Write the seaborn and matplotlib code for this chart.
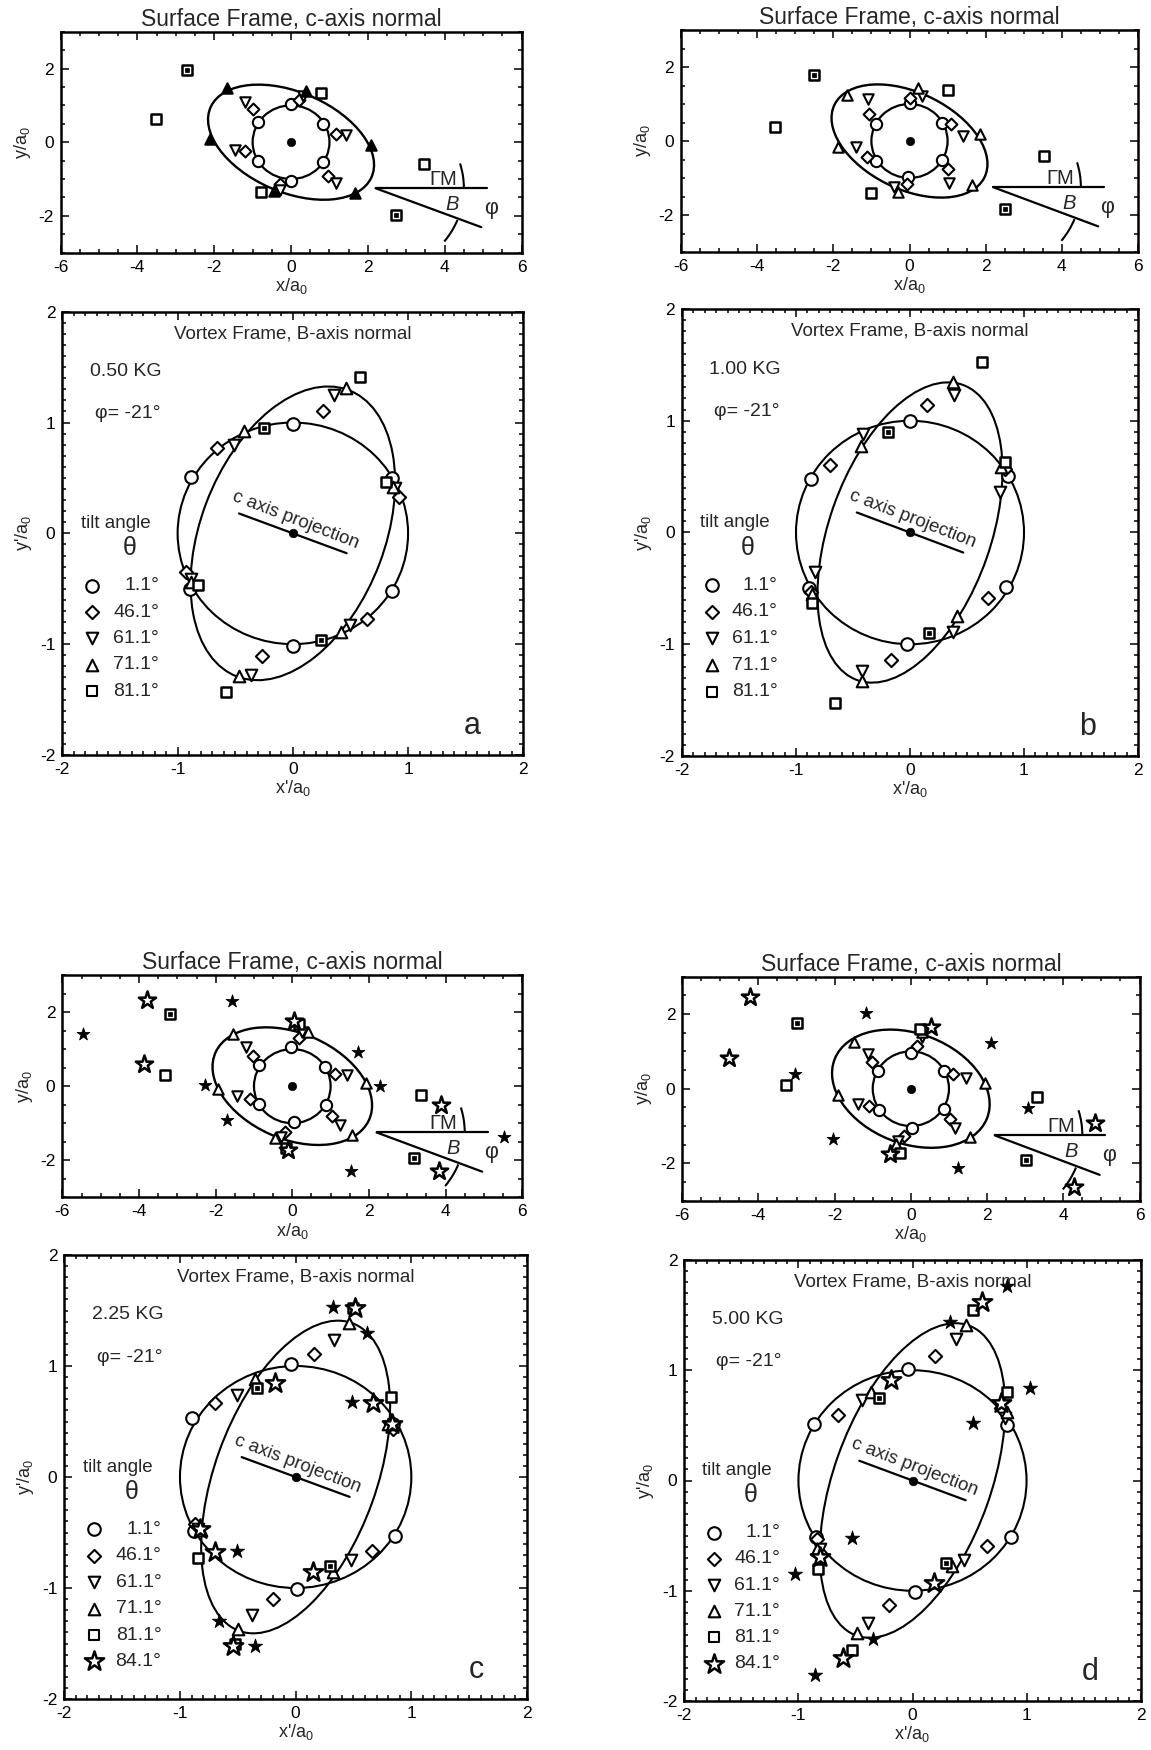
import numpy as np
import pandas as pd
import matplotlib
matplotlib.use("Agg")
import matplotlib.pyplot as plt
from matplotlib.patches import Ellipse, Arc
import seaborn as sns

# ---------------- data ----------------
FIELDS = ["0.50 KG", "1.00 KG", "2.25 KG", "5.00 KG"]
LETTERS = ["a", "b", "c", "d"]
PHI = -21
TILT_LABELS = ["1.1°", "46.1°", "61.1°", "71.1°", "81.1°", "84.1°"]

# surface-frame fitted ellipse (semi-axes, angle) per panel
SURF_ELL_A = [2.30, 2.20, 2.20, 2.15]
SURF_ELL_B = [1.35, 1.30, 1.42, 1.47]
SURF_ELL_ANG = [-25, -27, -25, -22]
# vortex-frame fitted ellipse per panel
VORT_ELL_A = [1.38, 1.40, 1.47, 1.49]
VORT_ELL_B = [0.80, 0.71, 0.70, 0.69]
VORT_ELL_ANG = [70, 71, 71, 71]

# ---- panel a ----
a_s_o = [(0, 1.03), (0.84, 0.5), (0.84, -0.53), (0, -1.04), (-0.85, -0.52), (-0.85, 0.54)]
a_s_d = [(0.2, 1.15), (1.18, 0.23), (0.97, -0.92), (-0.29, -1.13), (-1.21, -0.23), (-1.0, 0.91)]
a_s_v = [(-1.21, 1.1), (-1.45, -0.21), (1.42, 0.2), (1.18, -1.11), (0.3, 1.25), (-0.3, -1.3)]
a_s_t = [(-1.66, 1.46), (0.39, 1.4), (2.07, -0.07), (1.66, -1.39), (-0.45, -1.33), (-2.1, 0.08)]
a_s_sq = [(0.78, 1.33), (-0.78, -1.36), (-3.51, 0.62), (3.47, -0.6)]
a_s_sqd = [(-2.72, 1.97), (2.73, -1.99)]

a_v_o = [(-0.88, 0.51), (0, 0.99), (0.86, 0.5), (0.86, -0.52), (0, -1.02), (-0.89, -0.5)]
a_v_d = [(-0.66, 0.77), (0.26, 1.1), (0.92, 0.33), (0.64, -0.77), (-0.27, -1.11), (-0.93, -0.35)]
a_v_v = [(-0.51, 0.8), (0.36, 1.25), (0.89, 0.41), (0.5, -0.83), (-0.36, -1.28), (-0.88, -0.41)]
a_v_t = [(-0.42, 0.92), (0.46, 1.31), (0.87, 0.42), (0.42, -0.89), (-0.47, -1.29), (-0.88, -0.44)]
a_v_sq = [(0.58, 1.41), (0.81, 0.46), (-0.82, -0.47), (-0.58, -1.43)]
a_v_sqd = [(-0.25, 0.95), (0.24, -0.96)]

# ---- panel b ----
b_s_o = [(0, 1.04), (0.86, 0.5), (0.86, -0.51), (-0.03, -0.98), (-0.88, -0.53), (-0.88, 0.47)]
b_s_d = [(-1.07, 0.73), (1.1, 0.46), (1.0, -0.75), (-1.12, -0.44), (0.01, 1.17), (-0.06, -1.15)]
b_s_v = [(-1.09, 1.13), (-1.41, -0.15), (1.41, 0.14), (1.05, -1.14), (0.33, 1.22), (-0.4, -1.24)]
b_s_t = [(-1.65, 1.24), (0.23, 1.42), (1.86, 0.19), (1.63, -1.2), (-0.3, -1.38), (-1.89, -0.17)]
b_s_sq = [(-3.54, 0.38), (1.0, 1.37), (-1.02, -1.4), (3.52, -0.41)]
b_s_sqd = [(-2.5, 1.78), (2.5, -1.83)]

b_v_o = [(-0.87, 0.48), (0, 1.0), (0.86, 0.51), (0.84, -0.49), (-0.03, -1.0), (-0.89, -0.5)]
b_v_d = [(-0.7, 0.6), (0.15, 1.14), (0.83, 0.57), (0.68, -0.59), (-0.17, -1.14), (-0.87, -0.53)]
b_v_v = [(-0.41, 0.88), (0.39, 1.23), (0.79, 0.36), (0.38, -0.89), (-0.42, -1.24), (-0.83, -0.35)]
b_v_t = [(-0.43, 0.77), (0.38, 1.35), (0.8, 0.59), (0.41, -0.75), (-0.42, -1.33), (-0.86, -0.55)]
b_v_sq = [(0.63, 1.53), (0.83, 0.63), (-0.86, -0.63), (-0.66, -1.53)]
b_v_sqd = [(-0.19, 0.9), (0.17, -0.9)]

# ---- panel c ----
c_s_o = [(-0.04, 1.05), (0.85, 0.52), (0.88, -0.5), (0.04, -0.98), (-0.86, -0.47), (-0.88, 0.56)]
c_s_d = [(-1.03, 0.82), (1.11, 0.32), (1.04, -0.8), (-1.11, -0.35), (0.18, 1.29), (-0.2, -1.23)]
c_s_v = [(-1.21, 1.05), (1.43, 0.29), (1.24, -1.05), (-1.45, -0.27), (0.25, 1.45), (-0.3, -1.36)]
c_s_t = [(-1.54, 1.41), (0.42, 1.47), (1.93, 0.09), (1.55, -1.32), (-0.44, -1.41), (-1.93, -0.07)]
c_s_sq = [(-3.33, 0.29), (0.18, 1.68), (-0.17, -1.68), (3.37, -0.25)]
c_s_sqd = [(-3.2, 1.95), (3.18, -1.94)]
c_s_so = [(-3.79, 2.32), (-3.86, 0.59), (0.04, 1.77), (-0.1, -1.73), (3.87, -0.52), (3.82, -2.29)]
c_s_sf = [(-5.47, 1.41), (-1.57, 2.3), (-2.28, 0.03), (-1.7, -0.91), (1.71, 0.91), (2.29, 0.0),
          (1.52, -2.29), (5.52, -1.38)]

c_v_o = [(-0.9, 0.53), (-0.04, 1.02), (0.84, 0.48), (0.86, -0.53), (0.01, -1.01), (-0.88, -0.49)]
c_v_d = [(-0.7, 0.67), (0.16, 1.11), (0.84, 0.43), (0.66, -0.67), (-0.2, -1.1), (-0.87, -0.42)]
c_v_v = [(-0.51, 0.74), (0.33, 1.23), (0.81, 0.45), (0.48, -0.75), (-0.38, -1.24), (-0.84, -0.47)]
c_v_t = [(-0.35, 0.88), (0.46, 1.39), (0.8, 0.48), (0.32, -0.86), (-0.5, -1.37), (-0.82, -0.48)]
c_v_sq = [(0.5, 1.52), (0.82, 0.72), (-0.84, -0.73), (-0.52, -1.5)]
c_v_sqd = [(-0.33, 0.8), (0.3, -0.8)]
c_v_so = [(0.51, 1.52), (-0.18, 0.85), (0.67, 0.67), (0.83, 0.48), (0.15, -0.86), (-0.7, -0.68),
          (-0.83, -0.47), (-0.54, -1.52)]
c_v_sf = [(0.32, 1.53), (0.62, 1.3), (0.49, 0.68), (-0.51, -0.67), (-0.66, -1.3), (-0.35, -1.52)]

# ---- panel d ----
d_s_o = [(0, 0.96), (0.86, 0.47), (0.88, -0.54), (0.04, -1.05), (-0.83, -0.56), (-0.85, 0.47)]
d_s_d = [(-1.02, 0.72), (1.1, 0.39), (1.02, -0.81), (-1.1, -0.47), (0.15, 1.14), (-0.18, -1.26)]
d_s_v = [(-1.13, 0.94), (1.44, 0.3), (1.17, -1.06), (-1.39, -0.4), (0.3, 1.39), (-0.33, -1.39)]
d_s_t = [(-1.5, 1.26), (0.3, 1.52), (1.94, 0.15), (1.55, -1.3), (-0.38, -1.48), (-1.92, -0.18)]
d_s_sq = [(-3.27, 0.11), (0.25, 1.61), (-0.28, -1.72), (3.31, -0.21)]
d_s_sqd = [(-2.98, 1.77), (3.03, -1.9)]
d_s_so = [(-4.23, 2.45), (-4.76, 0.81), (0.52, 1.64), (-0.54, -1.75), (4.83, -0.92), (4.28, -2.63)]
d_s_sf = [(-1.19, 2.02), (-3.03, 0.4), (-2.03, -1.35), (2.1, 1.23), (3.07, -0.52), (1.23, -2.13)]

d_v_o = [(-0.86, 0.51), (-0.04, 1.01), (0.83, 0.5), (0.86, -0.51), (0.02, -1.01), (-0.85, -0.51)]
d_v_d = [(-0.65, 0.59), (0.2, 1.13), (0.78, 0.66), (0.65, -0.59), (-0.21, -1.13), (-0.84, -0.53)]
d_v_v = [(-0.44, 0.73), (0.38, 1.28), (0.81, 0.57), (0.45, -0.72), (-0.39, -1.29), (-0.81, -0.62)]
d_v_t = [(-0.36, 0.8), (0.47, 1.41), (0.83, 0.62), (0.35, -0.78), (-0.49, -1.38), (-0.84, -0.62)]
d_v_sq = [(0.53, 1.55), (0.83, 0.8), (-0.83, -0.8), (-0.53, -1.54)]
d_v_sqd = [(-0.29, 0.75), (0.29, -0.75)]
d_v_so = [(0.61, 1.62), (-0.19, 0.91), (0.78, 0.7), (0.19, -0.93), (-0.81, -0.69), (-0.61, -1.61)]
d_v_sf = [(0.33, 1.44), (1.03, 0.84), (0.53, 0.52), (0.83, 1.76), (-0.35, -1.44), (-1.03, -0.85),
          (-0.53, -0.52), (-0.855, -1.76)]

SURF = [
    dict(o=a_s_o, d=a_s_d, v=a_s_v, t=a_s_t, sq=a_s_sq, sqd=a_s_sqd, so=[], sf=[]),
    dict(o=b_s_o, d=b_s_d, v=b_s_v, t=b_s_t, sq=b_s_sq, sqd=b_s_sqd, so=[], sf=[]),
    dict(o=c_s_o, d=c_s_d, v=c_s_v, t=c_s_t, sq=c_s_sq, sqd=c_s_sqd, so=c_s_so, sf=c_s_sf),
    dict(o=d_s_o, d=d_s_d, v=d_s_v, t=d_s_t, sq=d_s_sq, sqd=d_s_sqd, so=d_s_so, sf=d_s_sf),
]
VORT = [
    dict(o=a_v_o, d=a_v_d, v=a_v_v, t=a_v_t, sq=a_v_sq, sqd=a_v_sqd, so=[], sf=[]),
    dict(o=b_v_o, d=b_v_d, v=b_v_v, t=b_v_t, sq=b_v_sq, sqd=b_v_sqd, so=[], sf=[]),
    dict(o=c_v_o, d=c_v_d, v=c_v_v, t=c_v_t, sq=c_v_sq, sqd=c_v_sqd, so=c_v_so, sf=c_v_sf),
    dict(o=d_v_o, d=d_v_d, v=d_v_v, t=d_v_t, sq=d_v_sq, sqd=d_v_sqd, so=d_v_so, sf=d_v_sf),
]

# ---------------- styling ----------------
sns.set_theme(style="ticks")
plt.rcParams['font.family'] = ['Liberation Sans', 'DejaVu Sans']
plt.rcParams['mathtext.fontset'] = 'custom'
plt.rcParams['mathtext.rm'] = 'Liberation Sans'
plt.rcParams['mathtext.it'] = 'Liberation Sans:italic'
plt.rcParams['axes.unicode_minus'] = False

W, H = 1151, 1750
fig = plt.figure(figsize=(W / 100, H / 100), dpi=100)
fig.patch.set_facecolor('white')


def frac(l, t, r, b):
    return [l / W, 1 - b / H, (r - l) / W, (b - t) / H]


SURF_POS = [(60.6, 31.7, 521.5, 252.7), (681, 30, 1138, 252),
            (62.4, 975, 522.2, 1197.3), (682.2, 976.7, 1139.5, 1200.7)]
VORT_POS = [(62.4, 311.7, 523.3, 755), (682, 309, 1138, 756),
            (64.3, 1255, 527, 1699), (684.4, 1260, 1140.6, 1701)]

STYLE = {
    'o': ('o', 1.0, 'white'),
    'd': ('D', 0.55, 'white'),
    'v': ('v', 0.85, 'white'),
    't': ('^', 0.85, 'white'),
    'sq': ('s', 0.72, 'white'),
    'sqd': ('s', 0.72, 'white'),
    'so': ('*', 2.6, 'white'),
    'sf': ('*', 1.4, 'black'),
}


def draw_series(ax, pts, key, base, tri_filled=False):
    if not pts:
        return
    marker, scale, face = STYLE[key]
    if key == 't' and tri_filled:
        face = 'black'
    df = pd.DataFrame(pts, columns=['x', 'y'])
    lw = 1.5
    if key in ('sq', 'sqd', 'so'):
        lw = 1.8
    if key == 'sf':
        lw = 0.6
    sns.scatterplot(data=df, x='x', y='y', ax=ax, marker=marker, s=base * scale,
                    color=face, edgecolor='black', linewidth=lw, legend=False, zorder=4)
    if key == 'sqd':
        sns.scatterplot(data=df, x='x', y='y', ax=ax, marker='s', s=base * 0.12,
                        color='black', edgecolor='black', linewidth=0.5, legend=False, zorder=5)


def style_axes(ax, xmaj, ymaj, xmin, ymin):
    ax.set_xticks(xmaj)
    ax.set_yticks(ymaj)
    ax.xaxis.set_minor_locator(matplotlib.ticker.MultipleLocator(xmin))
    ax.yaxis.set_minor_locator(matplotlib.ticker.MultipleLocator(ymin))
    ax.tick_params(which='both', direction='in', top=True, right=True, colors='black',
                   labelsize=12.5, width=1.1)
    ax.tick_params(which='major', length=5.5, pad=5)
    ax.tick_params(which='minor', length=3)
    for sp in ax.spines.values():
        sp.set_linewidth(1.8)
        sp.set_color('black')
    ax.set_facecolor('white')
    ax.grid(False)


for i in range(4):
    # ---------- surface frame ----------
    ax = fig.add_axes(frac(*SURF_POS[i]))
    ax.add_patch(Ellipse((0, 0), 2, 2, fill=False, lw=1.6, color='black', zorder=2))
    ax.add_patch(Ellipse((0, 0), 2 * SURF_ELL_A[i], 2 * SURF_ELL_B[i], angle=SURF_ELL_ANG[i],
                         fill=False, lw=1.7, color='black', zorder=2))
    base = 66
    for key in ['o', 'd', 'v', 't', 'sq', 'sqd', 'so', 'sf']:
        draw_series(ax, SURF[i][key], key, base, tri_filled=(i == 0))
    sns.scatterplot(x=[0], y=[0], ax=ax, marker='o', s=36, color='black', edgecolor='black',
                    legend=False, zorder=5)
    # GM / B / phi diagram
    vx, vy = 2.2, -1.25
    ax.plot([vx, 5.1], [vy, vy], color='black', lw=1.6, zorder=2)
    L = 2.95
    ax.plot([vx, vx + L * np.cos(np.radians(PHI))], [vy, vy + L * np.sin(np.radians(PHI))],
            color='black', lw=1.6, zorder=2)
    ax.add_patch(Arc((vx, vy), 4.6, 4.6, theta1=0, theta2=17, color='black', lw=1.5))
    ax.add_patch(Arc((vx, vy), 4.6, 4.6, theta1=-39, theta2=-22, color='black', lw=1.5))
    ax.text(3.95, -1.02, "ΓM", fontsize=14.5, ha='center', va='center', zorder=3)
    ax.text(4.2, -1.68, "B", fontsize=14.5, style='italic', ha='center', va='center', zorder=3)
    ax.text(5.2, -1.8, "φ", fontsize=15.5, ha='center', va='center', zorder=3)
    ax.set_xlim(-6, 6)
    ax.set_ylim(-3, 3)
    style_axes(ax, [-6, -4, -2, 0, 2, 4, 6], [-2, 0, 2], 0.5, 0.5)
    ax.set_xlabel(r"x/a$_\mathregular{0}$", fontsize=13, labelpad=1)
    ax.set_ylabel(r"y/a$_\mathregular{0}$", fontsize=13, labelpad=4)
    ax.set_title("Surface Frame, c-axis normal", fontsize=16.5, pad=4)

    # ---------- vortex frame ----------
    ax = fig.add_axes(frac(*VORT_POS[i]))
    ax.add_patch(Ellipse((0, 0), 2, 2, fill=False, lw=1.5, color='black', zorder=2))
    ax.add_patch(Ellipse((0, 0), 2 * VORT_ELL_A[i], 2 * VORT_ELL_B[i], angle=VORT_ELL_ANG[i],
                         fill=False, lw=1.5, color='black', zorder=2))
    base = 82
    for key in ['o', 'd', 'v', 't', 'sq', 'sqd', 'so', 'sf']:
        draw_series(ax, VORT[i][key], key, base)
    sns.scatterplot(x=[0], y=[0], ax=ax, marker='o', s=38, color='black', edgecolor='black',
                    legend=False, zorder=5)
    hl = 0.5
    ax.plot([-hl * np.cos(np.radians(PHI)), hl * np.cos(np.radians(PHI))],
            [-hl * np.sin(np.radians(PHI)), hl * np.sin(np.radians(PHI))],
            color='black', lw=1.6, zorder=3)
    ax.text(0.02, 0.12, "c axis projection", fontsize=13.5, rotation=PHI, ha='center',
            va='center', rotation_mode='anchor', zorder=3)
    ax.text(0.5, 0.95, "Vortex Frame, B-axis normal", transform=ax.transAxes, fontsize=13.5,
            ha='center', va='center')
    ax.text(0.06, 0.865, FIELDS[i], transform=ax.transAxes, fontsize=14, ha='left', va='center')
    ax.text(0.07, 0.77, "φ= -21°", transform=ax.transAxes, fontsize=14, ha='left', va='center')
    ax.text(0.115, 0.522, "tilt angle", transform=ax.transAxes, fontsize=13.5, ha='center',
            va='center')
    ax.text(0.145, 0.466, "θ", transform=ax.transAxes, fontsize=18, ha='center', va='center')
    nleg = 6 if VORT[i]['so'] else 5
    leg_keys = ['o', 'd', 'v', 't', 'sq', 'so']
    for k in range(nleg):
        yy = 0.382 - k * 0.0595
        marker, scale, face = STYLE[leg_keys[k]]
        lw = 1.8 if leg_keys[k] == 'so' else 1.5
        ax.scatter([0.065], [yy], transform=ax.transAxes, marker=marker, s=base * scale,
                   facecolor=face, edgecolor='black', linewidth=lw, zorder=4, clip_on=False)
        ax.text(0.21, yy, TILT_LABELS[k], transform=ax.transAxes, fontsize=14,
                ha='right', va='center')
    ax.text(0.89, 0.065, LETTERS[i], transform=ax.transAxes, fontsize=22, ha='center',
            va='center')
    ax.set_xlim(-2, 2)
    ax.set_ylim(-2, 2)
    style_axes(ax, [-2, -1, 0, 1, 2], [-2, -1, 0, 1, 2], 0.1, 0.1)
    ax.set_xlabel(r"x'/a$_\mathregular{0}$", fontsize=13, labelpad=1)
    ax.set_ylabel(r"y'/a$_\mathregular{0}$", fontsize=13, labelpad=4)

fig.savefig("out.png", dpi=100, facecolor='white')
